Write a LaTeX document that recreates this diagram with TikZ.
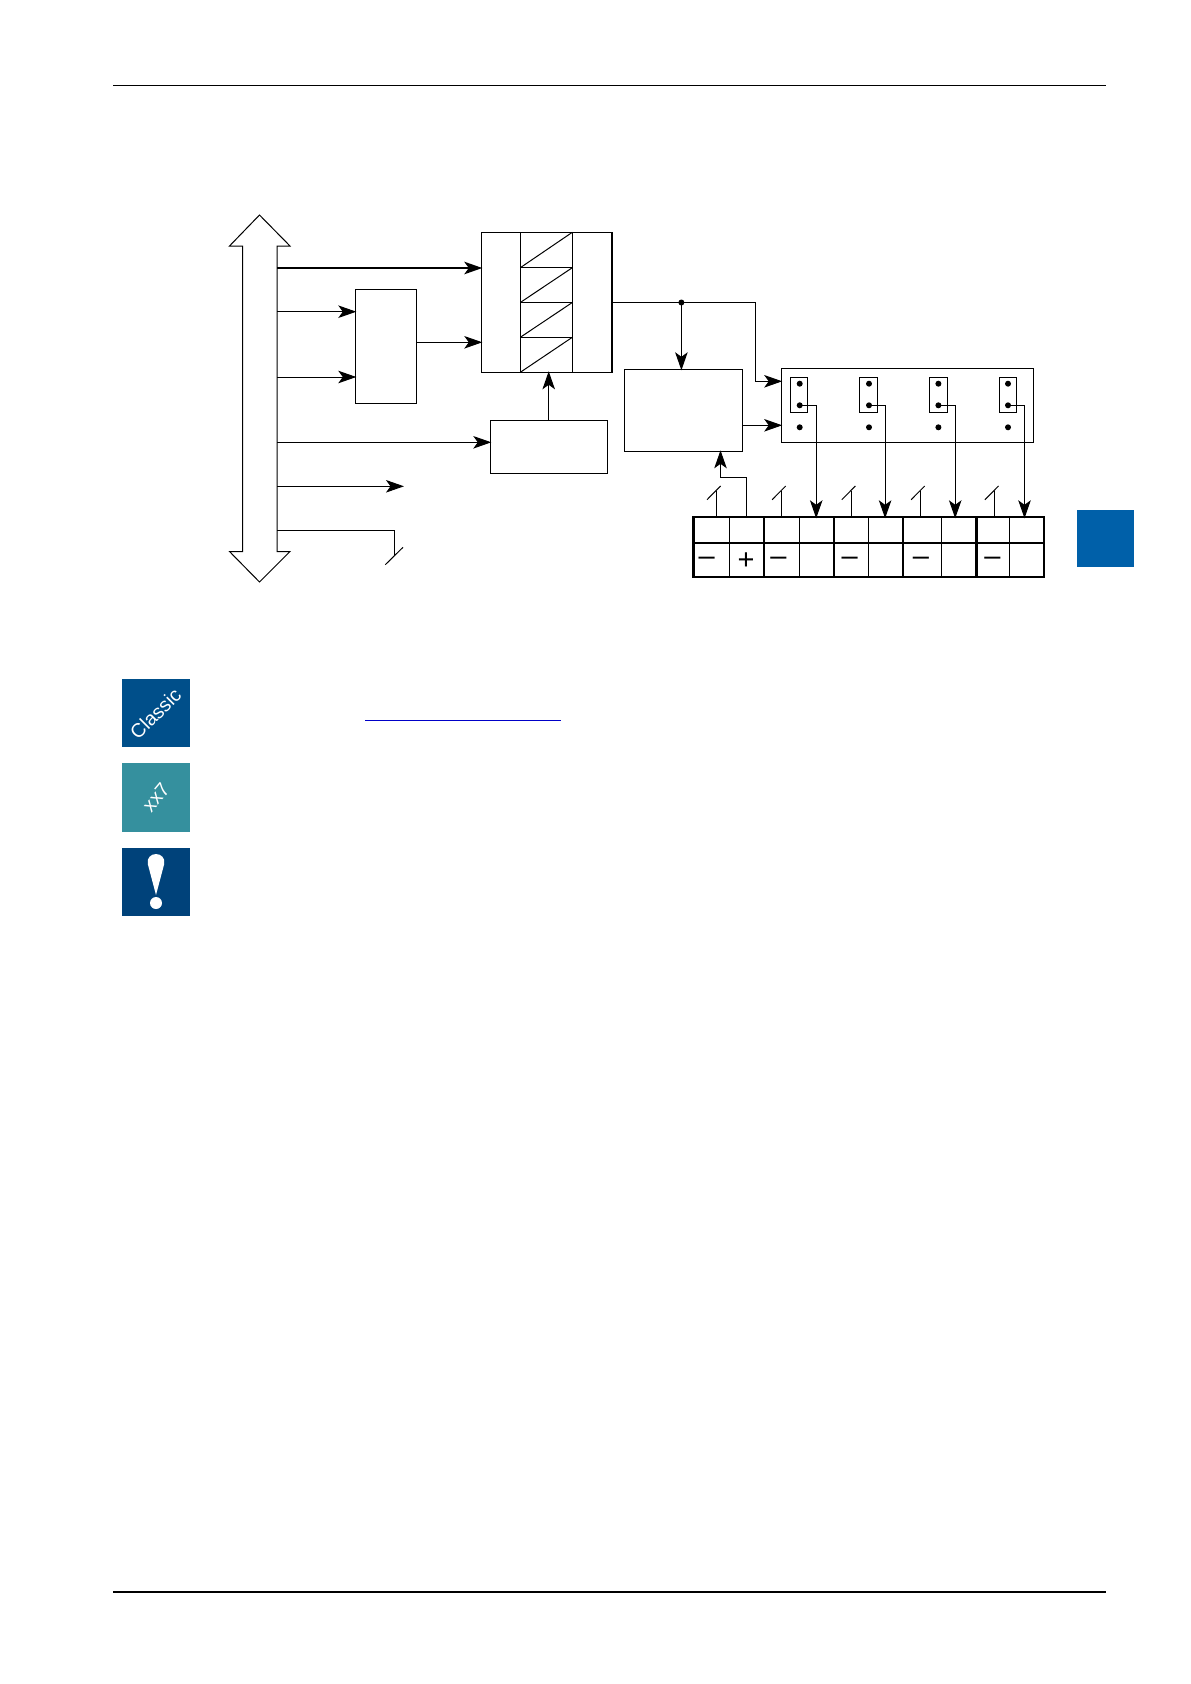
\documentclass[tikz,border=0pt]{standalone}
\usepackage{fontspec}
\setmainfont{Liberation Sans}
\usetikzlibrary{arrows.meta}
\definecolor{tabblue}{HTML}{0060A9}
\definecolor{classicblue}{HTML}{004F8A}
\definecolor{xxteal}{HTML}{35909E}
\definecolor{notenavy}{HTML}{00427A}
\definecolor{linkblue}{HTML}{0000C8}
\tikzset{
  box/.style={draw=black,line width=1pt,fill=white,rectangle,inner sep=0pt,outer sep=0pt,anchor=north west},
  arr/.style={draw=black,line width=1pt,-{Stealth[length=18pt,width=12.5pt,inset=4.5pt,sep=-1pt]}},
  thickarr/.style={arr,line width=2pt},
  wire/.style={draw=black,line width=1pt},
  dotnode/.style={circle,fill=black,inner sep=0pt,outer sep=0pt,minimum size=6pt},
  rule/.style={draw=black,line width=1.1pt},
  icon/.style={rectangle,inner sep=0pt,outer sep=0pt,anchor=north west,minimum width=68pt},
  icontext/.style={text=white,font=\fontsize{19.5pt}{21pt}\selectfont,inner sep=0pt},
  sign/.style={font=\fontsize{29pt}{29pt}\selectfont,inner sep=0pt},
  tabrule/.style={draw=black,line width=2.3pt},
  tabthin/.style={draw=black,line width=1pt}
}
\begin{document}
\begin{tikzpicture}[x=1pt,y=-1pt]
\useasboundingbox (0,0) rectangle (1191,1684);
\fill[white] (0,0) rectangle (1191,1684);
% page rules
\coordinate (hl) at (113,85.5); \coordinate (hr) at (1106,85.5);
\coordinate (fl) at (113,1592); \coordinate (fr) at (1106,1592);
\draw[rule] (hl) -- (hr);
\draw[rule] (fl) -- (fr);
% bus
\draw[wire,fill=white] (259.5,215) -- (290,246) -- (277,246) -- (277,551.5) -- (290,551.5)
  -- (259.5,582) -- (229.5,551.5) -- (242.5,551.5) -- (242.5,246) -- (229.5,246) -- cycle;
\coordinate (b1) at (277,268);
\coordinate (b2) at (277,311.7);
\coordinate (b3) at (277,377);
\coordinate (b4) at (277,442.3);
\coordinate (b5) at (277,486.3);
\coordinate (b6) at (277,530.3);
% boxes
\node[box,minimum width=130.7pt,minimum height=140pt] (fifo) at (481.3,232.3) {};
\node[box,minimum width=61pt,minimum height=114pt] (conv) at (355.3,289.3) {};
\node[box,minimum width=117pt,minimum height=53pt] (ctrl) at (490.3,420.3) {};
\node[box,minimum width=117.9pt,minimum height=82pt] (proc) at (624.5,369.3) {};
\node[box,minimum width=251.9pt,minimum height=74pt] (mux) at (781.2,368.3) {};
% fifo interior
\draw[wire] (520.3,232.3) -- (520.3,372.3);
\draw[wire] (572.3,232.3) -- (572.3,372.3);
\foreach \a/\b in {232.3/267.7,267.7/302.5,302.5/337.3,337.3/372.3}{
  \draw[wire] (520.3,\b) -- (572.3,\a);
  \draw[wire] (520.3,\b) -- (572.3,\b);
}
\draw[line width=2pt] (fifo.north east) -- (fifo.south east);
% connectors from bus
\draw[thickarr] (b1) -- (fifo.west |- b1);
\draw[arr] (b2) -- (conv.west |- b2);
\draw[arr] (b3) -- (conv.west |- b3);
\coordinate (c1) at (416.3,342.3);
\draw[arr] (c1) -- (fifo.west |- c1);
\draw[arr] (b4) -- (ctrl.west |- b4);
\coordinate (fa) at (403,486.3);
\draw[arr] (b5) -- (fa);
\coordinate (sa) at (394.3,530.3);
\coordinate (sb) at (394.3,555);
\coordinate (s1) at (385.3,564.7);
\coordinate (s2) at (403,547.3);
\draw[wire] (b6) -- (sa) -- (sb);
\draw[wire] (s1) -- (s2);
\coordinate (uu) at (548.7,420.3);
\coordinate (ut) at (548.7,372.3);
\draw[arr] (uu) -- (ut);
% output net
\coordinate (o) at (612.2,302.5);
\node[dotnode] (junc) at (681.4,302.5) {};
\coordinate (k) at (755.2,302.5);
\coordinate (k2) at (755.2,381.3);
\coordinate (m1) at (781.2,381.3);
\coordinate (pt) at (681.4,369.3);
\draw[wire] (o) -- (junc.center);
\draw[arr] (junc.center) -- (pt);
\draw[arr] (junc.center) -- (k) -- (k2) -- (m1);
\coordinate (pr) at (742.4,425.3);
\draw[arr] (pr) -- (mux.west |- pr);
% jumpers
\foreach \i/\x/\l/\w in {1/799.7/790.2/17.3,2/869/859.1/18.5,3/938.4/929.2/18.1,4/1008/999.2/17}{
  \node[box,fill=none,minimum width=\w pt,minimum height=35pt] (j\i) at (\l,377.3) {};
  \node[dotnode] (p\i a) at (\x,383.7) {};
  \node[dotnode] (p\i b) at (\x,405.3) {};
  \node[dotnode] (p\i c) at (\x,427.3) {};
}
% terminal block
\node[box,line width=2.3pt,minimum width=350.6pt,minimum height=59.4pt] (tb) at (693.4,517.3) {};
\coordinate (tml) at (693.4,542.7);
\coordinate (tmr) at (1044,542.7);
\draw[tabrule] (tml) -- (tmr);
\foreach \x in {763.8,833.9,902.8,976.6}{\draw[tabrule] (\x,517.3) -- (\x,576.7);}
\foreach \x in {729.2,799.2,868.5,941.2,1009.4}{\draw[tabthin] (\x,517.3) -- (\x,576.7);}
\foreach \n/\x in {a/706.6,b/778.5,c/849.7,d/920.9,e/992.5}{\node[sign] (minus\n) at (\x,561.5) {–};}
\node[sign] (plus) at (746.1,561) {+};
% jumper to terminal
\foreach \i/\x in {1/816.2,2/885.1,3/955.2,4/1024.5}{
  \coordinate (t\i) at (\x,517.3);
  \draw[arr] (p\i b.center) -| (t\i);
}
% stubs with slashes
\foreach \n/\x/\l in {a/716.4/707,b/781.5/772.1,c/851.6/841.8,d/920.5/911.1,e/994.4/984.9}{
  \coordinate (st\n) at (\x,517.3);
  \coordinate (su\n) at (\x,491);
  \draw[wire] (st\n) -- (su\n);
  \coordinate (sl\n) at (\l,499.7);
  \coordinate (sh\n) at ({\l+13.6},486);
  \draw[wire] (sl\n) -- (sh\n);
}
\coordinate (fb0) at (746.1,517.3);
\coordinate (fb1) at (746.1,477.3);
\coordinate (fb2) at (720.5,477.3);
\coordinate (fb3) at (720.5,451.3);
\draw[arr] (fb0) -- (fb1) -- (fb2) -- (fb3);
% side tab
\node[icon,fill=tabblue,minimum width=57pt,minimum height=57pt] (tab) at (1077,510) {};
% icons
\node[icon,fill=classicblue,minimum height=68pt] (ic1) at (122,679) {};
\node[icontext,rotate=45] (ic1t) at ([xshift=-0.6pt,yshift=-0.6pt]ic1.center) {Classic};
\draw[linkblue,line width=1.1pt] (365,720.3) coordinate (la) -- (561,720.3) coordinate (lb);
\node[icon,fill=xxteal,minimum height=69pt] (ic2) at (122,763) {};
\node[icontext,rotate=50] (ic2t) at (ic2.center) {xx7};
\node[icon,fill=notenavy,minimum height=68pt] (ic3) at (122,848) {};
\fill[white] (156,895) -- (147.8,864) .. controls (146.5,858) and (151,854) .. (156,854)
  .. controls (161,854) and (165.5,858) .. (164.2,864) -- cycle;
\fill[white] (156,903) circle (6pt);
\end{tikzpicture}
\end{document}
